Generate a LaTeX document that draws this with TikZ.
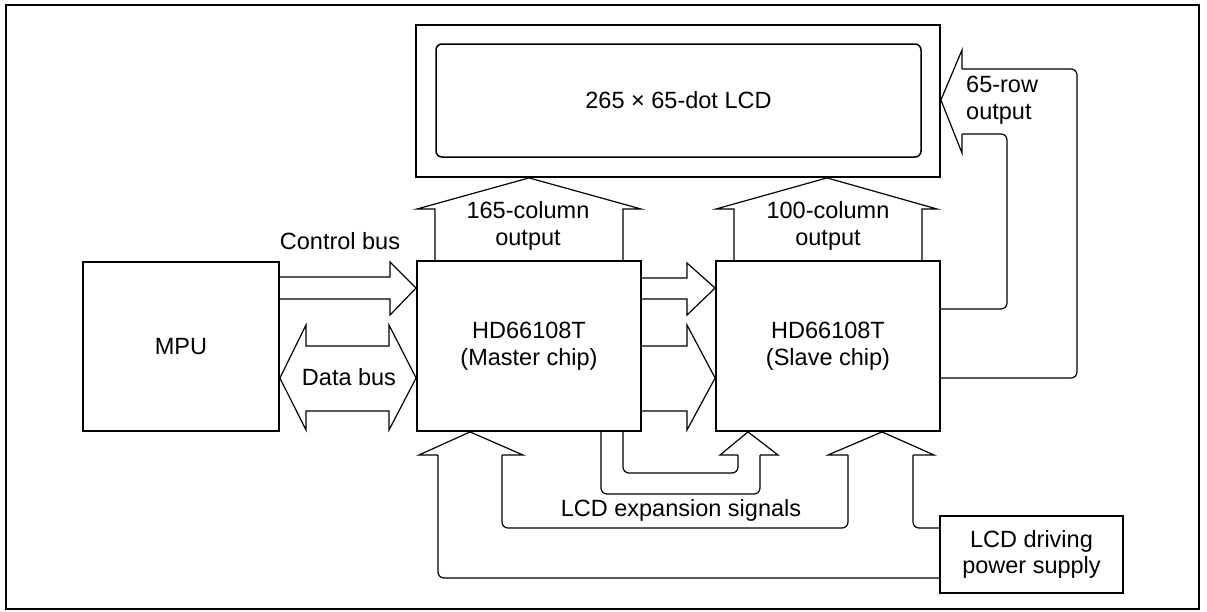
\documentclass[tikz,border=0pt]{standalone}
\usepackage{fontspec}
\setmainfont{Liberation Sans}
\newcommand{\dgfont}{\fontsize{23.5}{26.5}\selectfont}
\begin{document}
\begin{tikzpicture}[x=1pt,y=-1pt,
  box/.style={draw, line width=1.8pt, inner sep=0pt, align=center, font=\dgfont},
  conn/.style={line width=1.2pt, line join=miter},
  pipe/.style={conn, rounded corners=6pt},
  lbl/.style={inner sep=0pt, align=center, font=\dgfont}]
\useasboundingbox (0,0) rectangle (1207,611);
\draw[line width=1.8pt] (6,5) rectangle (1199,609);

% blocks
\node[box, minimum width=524pt, minimum height=152pt] (lcd) at (678,101) {};
\node[draw, line width=1.5pt, rounded corners=6pt, minimum width=485pt, minimum height=113pt, inner sep=0pt, font=\dgfont] (lcdin) at (678.5,100.5) {265 × 65-dot LCD};
\node[box, minimum width=196pt, minimum height=169pt] (mpu) at (181,346.5) {MPU};
\node[box, minimum width=224pt, minimum height=170pt] (master) at (529,346) {HD66108T\\(Master chip)};
\node[box, minimum width=224pt, minimum height=170pt] (slave) at (828,346) {HD66108T\\(Slave chip)};
\node[box, minimum width=183pt, minimum height=77pt] (power) at (1031.5,554.5) {LCD driving\\power supply};

% control bus
\draw[conn] (mpu.east |- 0,277) -- (390,277) -- (390,262) -- (master.west |- 0,288) -- (390,315) -- (390,299) -- (mpu.east |- 0,299);
\node[lbl] (cbus) at (340,241) {Control bus};
% data bus
\draw[conn] (306,346) -- (389,346) -- (389,325) -- (master.west |- 0,378) -- (389,430) -- (389,411) -- (306,411) -- (306,430) -- (mpu.east |- 0,378) -- (306,325) -- cycle;
\node[lbl] (dbus) at (349,377) {Data bus};

% master -> slave
\draw[conn] (master.east |- 0,278) -- (687,278) -- (687,263) -- (slave.west |- 0,288) -- (687,315) -- (687,299) -- (master.east |- 0,299);
\draw[conn] (master.east |- 0,346) -- (687,346) -- (687,325) -- (slave.west |- 0,378) -- (687,430) -- (687,411) -- (master.east |- 0,411);

% column outputs
\draw[conn] (435,261) -- (435,209) -- (417,209) -- (lcd.south -| 529,0) -- (641,209) -- (623,209) -- (623,261);
\node[lbl] (col165) at (528,226) {165-column\\output};
\draw[conn] (734,261) -- (734,209) -- (716,209) -- (lcd.south -| 827,0) -- (937,209) -- (922,209) -- (922,261);
\node[lbl] (col100) at (828,226) {100-column\\output};

% row output
\draw[pipe] (slave.east |- 0,378) -- (1077,378) -- (1077,69) -- (962,69);
\draw[conn] (962,69) -- (962,50) -- (lcd.east |- 0,100) -- (962,153) -- (962,134);
\draw[pipe] (962,134) -- (1007,134) -- (1007,309) -- (slave.east |- 0,309);
\node[lbl, anchor=west, align=left] (row65) at (966,100) {65-row\\output};

% power supply / expansion pipe to master
\draw[conn] (438,455) -- (419,455) -- (master.south -| 470,0) -- (523,455) -- (502,455);
\draw[pipe] (438,455) -- (438,578) -- (power.west |- 0,578);
\draw[pipe] (502,455) -- (502,528) -- (848,528) -- (848,455);
\draw[conn] (848,455) -- (828,455) -- (slave.south -| 882,0) -- (934,455) -- (913,455);
\draw[pipe] (913,455) -- (913,528) -- (power.west |- 0,528);
\node[lbl] (lcdexp) at (681,510) {LCD expansion signals};

% master -> slave expansion
\draw[pipe] (master.south -| 623,0) -- (623,473) -- (738,473) -- (738,455);
\draw[pipe] (master.south -| 601,0) -- (601,494) -- (760,494) -- (760,455);
\draw[conn] (738,455) -- (720,455) -- (slave.south -| 748,0) -- (778,455) -- (760,455);
\end{tikzpicture}
\end{document}
